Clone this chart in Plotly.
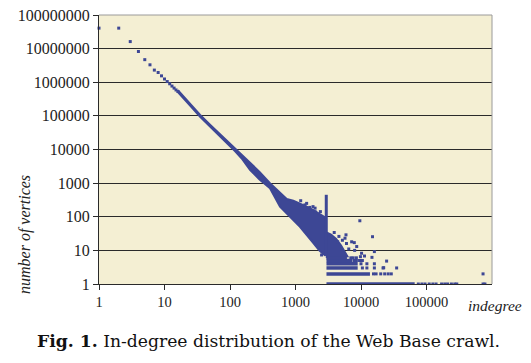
import plotly.graph_objects as go

BLUE = "#3d4795"
GRID = "#2a2a2a"
BG = "#f4efd3"

# discrete low-degree points
low_x = [1, 2, 3, 4, 5, 6, 7, 8, 9, 10, 11, 12, 13, 14, 15, 16]
low_y = [4.07e7, 4.07e7, 1.62e7, 8.2e6, 4.7e6, 3.3e6, 2.3e6, 1.95e6, 1.55e6,
         1.25e6, 1.05e6, 9.0e5, 7.7e5, 6.7e5, 5.9e5, 5.3e5]

# envelope of the dense band (upper and lower edges)
band_x = [16, 20, 25, 35, 50, 70, 100, 119, 150, 202, 280, 408, 580, 734, 925,
          1170, 1480, 1850, 2300, 2650, 2850]
band_up = [5.8e5, 3.6e5, 2.2e5, 1.07e5, 5.4e4, 2.9e4, 1.5e4, 1.1e4, 7.0e3, 4.3e3,
           2.2e3, 1.0e3, 520, 340, 300, 250, 200, 160, 120, 100, 95]
band_lo = [5.1e5, 3.2e5, 1.95e5, 0.94e5, 4.7e4, 2.5e4, 1.25e4, 9.0e3, 5.5e3, 2.5e3,
           1.3e3, 700, 200, 126, 80, 50, 29, 17, 10, 8, 7]

# vertical spike
spike_x = [2950, 2950]
spike_y = [7, 450]

# cluster just right of the spike
clus_x = [2970, 2970, 3500, 4200, 5000, 5800, 6300]
clus_y = [6, 35, 30, 22, 14, 9, 6.5]

# horizontal rows of small counts
row_y = [1, 2, 3, 4, 5, 6]
row_start = [2970, 2970, 2970, 2970, 2970, 2970]
row_end = [66000, 13700, 8900, 8900, 7300, 6100]

# sparse points
sp_x = [75000, 85000, 95000, 110000, 125000, 140000, 170000, 190000, 210000,
        240000, 270000, 290000, 730000, 780000,
        15500, 17000, 20000, 23000, 26000, 29000, 730000,
        10500, 12300, 16000, 21700, 35000,
        10000, 12300, 16000,
        7800, 8500, 9500, 10500, 24600,
        7000, 7600, 8500, 9800, 11300,
        1480, 1990, 2400, 1390, 1850, 9600, 15000, 5900, 5700, 7900, 16000,
        14700, 22200, 6000, 7200, 8600, 4400, 10200, 2500, 6500, 5200, 4600,
        3900, 8000, 1200, 1650, 2000]
sp_y = [1, 1, 1, 1, 1, 1, 1, 1, 1, 1, 1, 1, 1, 1,
        2, 2, 2, 2, 2, 2, 2,
        3, 3, 3, 3, 3,
        4, 4, 4,
        5, 5, 5, 5, 4.8,
        6, 6, 6, 6.5, 6.8,
        250, 180, 142, 225, 200, 76, 25.5, 29, 23, 17, 9.2,
        6.2, 3.05, 16, 18, 13, 18, 8.2, 7.3, 11, 20, 26,
        34, 10, 300, 190, 140]

x_ticks = [1, 10, 100, 1000, 10000, 100000]
x_labels = ["1", "10", "100", "1000", "10000", "100000"]
y_ticks = [1, 10, 100, 1000, 10000, 100000, 1000000, 10000000, 100000000]
y_labels = ["1", "10", "100", "1000", "10000", "100000", "1000000",
            "10000000", "100000000"]

fig = go.Figure()

fig.add_trace(go.Scatter(
    x=band_x + band_x[::-1], y=band_up + band_lo[::-1],
    mode="lines", fill="toself", fillcolor=BLUE,
    line=dict(color=BLUE, width=2), hoverinfo="skip"))
fig.add_trace(go.Scatter(
    x=clus_x + [clus_x[0]], y=clus_y + [clus_y[0]],
    mode="lines", fill="toself", fillcolor=BLUE,
    line=dict(color=BLUE, width=1.5), hoverinfo="skip"))
fig.add_trace(go.Scatter(x=spike_x, y=spike_y, mode="lines",
                         line=dict(color=BLUE, width=3), hoverinfo="skip"))
for yv, xs, xe in zip(row_y, row_start, row_end):
    fig.add_trace(go.Scatter(x=[xs, xe], y=[yv, yv], mode="lines",
                             line=dict(color=BLUE, width=3.5), hoverinfo="skip"))
fig.add_trace(go.Scatter(x=low_x, y=low_y, mode="markers",
                         marker=dict(color=BLUE, size=3, symbol="square"),
                         cliponaxis=False))
fig.add_trace(go.Scatter(x=sp_x, y=sp_y, mode="markers",
                         marker=dict(color=BLUE, size=3, symbol="square")))

serif = "Liberation Serif, Times New Roman, Times, serif"
yf = dict(family=serif, size=16, color="#222")
xf = dict(family=serif, size=14.5, color="#222")
fig.update_layout(
    width=531, height=363,
    margin=dict(l=99, r=39, t=15, b=79, autoexpand=False),
    paper_bgcolor="white", plot_bgcolor=BG,
    showlegend=False,
    font=yf,
    xaxis=dict(type="log", range=[0, 6], tickvals=x_ticks, ticktext=x_labels,
               ticks="outside", ticklen=5, tickcolor=GRID, showgrid=False,
               showline=True, linecolor=GRID, linewidth=1, zeroline=False,
               automargin=False, tickfont=xf),
    yaxis=dict(type="log", range=[0, 8], tickvals=y_ticks, ticktext=y_labels,
               ticks="outside", ticklen=5, tickcolor=GRID, showgrid=True,
               gridcolor=GRID, gridwidth=1, showline=True, linecolor=GRID,
               linewidth=1, zeroline=False, automargin=False, tickfont=yf),
    shapes=[
        dict(type="line", xref="paper", yref="paper", x0=0, x1=1, y0=1, y1=1,
             line=dict(color="#9a9a9a", width=1), layer="above"),
        dict(type="line", xref="paper", yref="paper", x0=1, x1=1, y0=0, y1=1,
             line=dict(color="#9a9a9a", width=1), layer="above"),
    ],
    annotations=[
        dict(text="<i>indegree</i>", xref="paper", yref="paper",
             x=(495 - 99) / 393, y=-(305 - 284) / 269, xanchor="center",
             yanchor="middle", showarrow=False,
             font=dict(family=serif, size=15.5, color="#222")),
        dict(text="<i>number of vertices</i>", xref="paper", yref="paper",
             x=-(99 - 25) / 393, y=(284 - 235) / 269, xanchor="center",
             yanchor="middle", showarrow=False, textangle=-90,
             font=dict(family=serif, size=16, color="#222")),
        dict(text="<b>Fig. 1.</b> In-degree distribution of the Web Base crawl.",
             xref="paper", yref="paper",
             x=(268 - 99) / 393, y=-(341 - 284) / 269, xanchor="center",
             yanchor="middle", showarrow=False,
             font=dict(family="DejaVu Serif", size=17.2, color="#111")),
    ],
)

fig.write_html("out.html",
               config={"displayModeBar": False},
               post_script="document.body.style.margin='0';"
                           "document.body.style.overflow='hidden';")
